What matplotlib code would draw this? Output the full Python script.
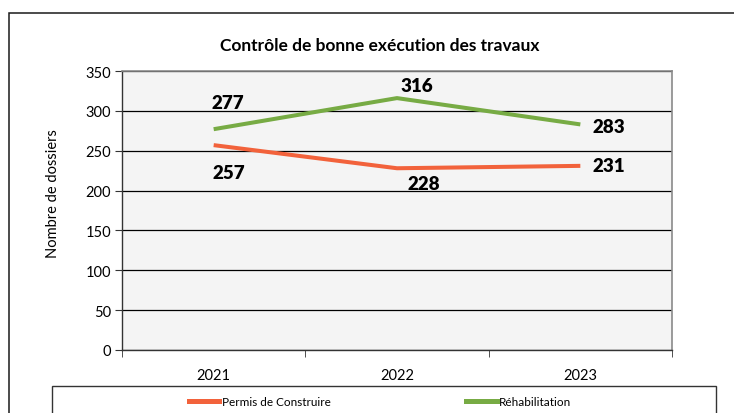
import matplotlib
matplotlib.use("Agg")
import matplotlib.pyplot as plt
from matplotlib.patches import Rectangle
from matplotlib.lines import Line2D

plt.rcParams['font.family'] = ['Lato', 'DejaVu Sans']

years = ['2021', '2022', '2023']
permis = [257, 228, 231]
rehab = [277, 316, 283]

c_permis = '#F2623B'
c_rehab = '#77AB44'

W, H = 734, 414
fig = plt.figure(figsize=(W / 100, H / 100), dpi=100)
fig.patch.set_facecolor('white')

# plot area (pixel coordinates)
left, right, top, bottom = 122, 672, 72, 351
ax = fig.add_axes([left / W, (H - bottom) / H, (right - left) / W, (bottom - top) / H])
ax.set_facecolor('#F4F4F4')

x = range(len(years))
ax.plot(x, permis, color=c_permis, lw=2.9, solid_capstyle='butt', zorder=3)
ax.plot(x, rehab, color=c_rehab, lw=2.9, solid_capstyle='butt', zorder=3)

# data labels, offsets in pixels
lab_perm = [(15, -27), (27, -15), (28, 0)]
lab_rehab = [(14, 27), (20, 13), (28, -2)]
for i, v in enumerate(permis):
    ax.annotate(str(v), (i, v), xytext=lab_perm[i], textcoords='offset pixels',
                ha='center', va='center', fontsize=13.5, fontweight='heavy', zorder=4)
for i, v in enumerate(rehab):
    ax.annotate(str(v), (i, v), xytext=lab_rehab[i], textcoords='offset pixels',
                ha='center', va='center', fontsize=13.5, fontweight='heavy', zorder=4)

ax.set_xlim(-0.5, 2.5)
ax.set_ylim(0, 350)
ax.set_yticks(range(0, 351, 50))
ax.yaxis.grid(True, color='black', lw=0.9)
ax.set_axisbelow(True)

ax.set_xticks(list(x))
ax.set_xticklabels(years)
ax.set_xticks([-0.5, 0.5, 1.5, 2.5], minor=True)
ax.tick_params(axis='x', which='major', length=0, pad=13, labelsize=10.5)
ax.tick_params(axis='x', which='minor', length=5, direction='out', color='#333333')
ax.tick_params(axis='y', length=5, direction='out', color='#333333', labelsize=10.5, pad=3)

for s in ['top', 'right']:
    ax.spines[s].set_color('#8A8A8A')
    ax.spines[s].set_linewidth(1.2)
for s in ['left', 'bottom']:
    ax.spines[s].set_color('#333333')
    ax.spines[s].set_linewidth(1.0)

ax.set_ylabel('Nombre de dossiers', fontsize=10.5)
ax.yaxis.set_label_coords(-0.112, 0.563)

fig.text(380 / W, 1 - 46 / H, 'Contrôle de bonne exécution des travaux',
         ha='center', va='center', fontsize=12.5, fontweight='bold')

# outer chart frame and legend box
fig.patches.append(Rectangle((9 / W, -0.1), 1.2, (H - 14) / H + 0.1,
                             transform=fig.transFigure, fill=False,
                             edgecolor='#1a1a1a', lw=1.1, clip_on=False))
fig.patches.append(Rectangle((52 / W, -0.1), (716 - 52) / W, (H - 387) / H + 0.1,
                             transform=fig.transFigure, fill=False,
                             edgecolor='#333333', lw=1.0, clip_on=False))

handles = [Line2D([], [], color=c_permis, lw=3.6),
           Line2D([], [], color=c_rehab, lw=3.6)]
fig.legend(handles, ['Permis de Construire', 'Réhabilitation'], loc='center',
           bbox_to_anchor=(380 / W, 1 - 403 / H), ncol=2, frameon=False,
           fontsize=8.5, handlelength=2.6, handletextpad=0.2, columnspacing=11.5)

fig.savefig('out.png', dpi=100)
